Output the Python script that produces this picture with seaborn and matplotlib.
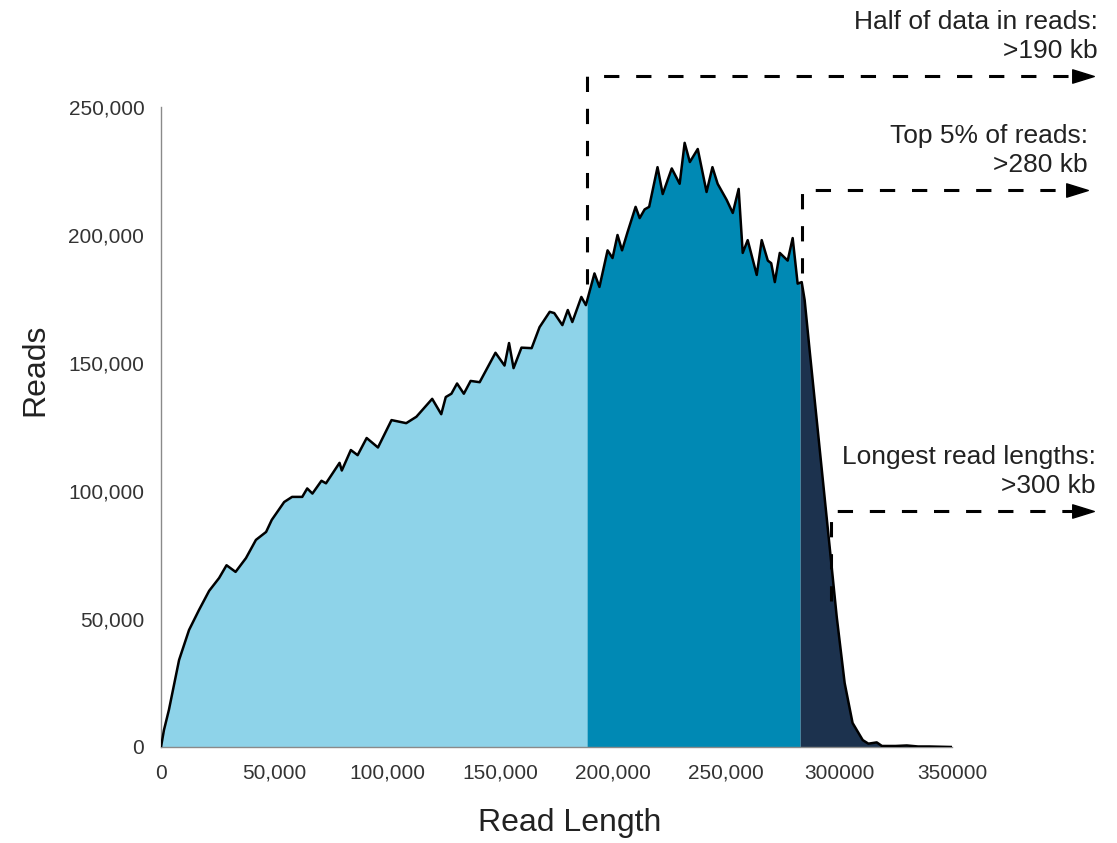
import numpy as np
import pandas as pd
import matplotlib
matplotlib.use("Agg")
import matplotlib.pyplot as plt
from matplotlib.path import Path
import seaborn as sns

# ---------------- data ----------------
read_length_kb = [0, 1.3, 3.5, 8, 12.4, 16.8, 21.3, 25.7, 29, 33, 37.6, 42, 46.5, 49, 54.5,
                  58, 62.5, 64.7, 67, 71, 73, 79, 80, 84, 87, 91, 96, 102, 108.5, 113,
                  120, 124, 126, 128.5, 131, 134, 137, 141, 148, 152, 154, 156, 159.5, 164,
                  167.5, 172, 174, 177.6, 180, 182, 186, 188, 191.8, 194, 197.6, 199.8, 202,
                  204, 206.4, 210, 211.8, 214, 216, 219.7, 222, 226, 229.5, 231.7, 234,
                  237.5, 241.4, 244, 246.3, 250.3, 253, 255.6, 257.4, 259.6, 263.6, 265.8,
                  268.5, 270, 271.6, 273.8, 277.3, 279.5, 281.7, 283.5, 284.8, 287, 290,
                  293, 296, 299, 302.5, 306, 310.5, 313, 316.7, 319, 325, 330, 335, 340,
                  345, 350]
reads_k = [0, 6.6, 14.5, 34, 45.7, 53.5, 61, 66, 71, 68.4, 73.8, 80.9, 84, 88.7, 95.7,
           97.7, 97.7, 101, 99, 104, 103, 111, 108, 116, 114, 120.7, 117, 127.7, 126.5, 129,
           136, 130, 136.7, 138, 142, 138, 143, 142.5, 154, 149, 157.8, 148, 156, 155.8,
           164, 170, 169.5, 164.8, 170.7, 166, 175.8, 172.6, 185, 179.7, 194, 191, 200,
           194, 201, 211, 206.6, 210, 211, 226.5, 216, 226, 220, 236, 228.5,
           233.6, 216.8, 226.5, 220, 213.7, 208.6, 218, 193, 198, 184.4, 198,
           190, 189, 181.6, 193, 190, 198.8, 181, 181.6, 174.6, 155, 129,
           103, 77, 50.8, 25, 9.4, 2.7, 1.3, 1.8, 0.4, 0.4, 0.6, 0.2, 0.2,
           0.1, 0]

# region boundaries (kb)
half_data_kb = 188.5
top5_kb = 282.8

# annotation callouts
callout_text = ["Half of data in reads:\n>190 kb",
                "Top 5% of reads:\n>280 kb",
                "Longest read lengths:\n>300 kb"]
callout_x_kb = [188.7, 283.5, 296.4]          # dashed vertical position
callout_level_k = [262, 217.5, 92]            # dashed horizontal level
callout_bottom_k = [181, 185, 57]             # lower end of vertical dash
callout_tip_kb = [413, 410, 413]              # arrow tip (beyond axis)
callout_text_x_kb = [414.5, 410, 413.5]

x_ticks = [0, 50000, 100000, 150000, 200000, 250000, 300000, 350000]
x_tick_labels = ["0", "50,000", "100,000", "150,000", "200,000", "250,000", "300000", "350000"]
y_ticks = [0, 50000, 100000, 150000, 200000, 250000]
y_tick_labels = ["0", "50,000", "100,000", "150,000", "200,000", "250,000"]

colors = ["#8ED3E9", "#0089B4", "#1C324E"]

# ---------------- plot ----------------
sns.set_theme(style="white")
plt.rcParams['font.family'] = ['Liberation Sans', 'DejaVu Sans']

df = pd.DataFrame({"Read Length": np.array(read_length_kb) * 1000.0,
                   "Reads": np.array(reads_k) * 1000.0})

W, H = 1117, 843
fig = plt.figure(figsize=(W / 100, H / 100), dpi=100)
ax = fig.add_axes([161 / W, 96 / H, 791 / W, 640 / H])

xs = df["Read Length"].to_numpy()
ys = df["Reads"].to_numpy()
bounds = [0, half_data_kb * 1000, top5_kb * 1000, 350000]
for i in range(3):
    a, b = bounds[i], bounds[i + 1]
    inner = (xs > a) & (xs < b)
    seg_x = np.concatenate([[a], xs[inner], [b]])
    seg_y = np.concatenate([[np.interp(a, xs, ys)], ys[inner], [np.interp(b, xs, ys)]])
    ax.fill_between(seg_x, 0, seg_y, color=colors[i], linewidth=0, zorder=1)

sns.lineplot(data=df, x="Read Length", y="Reads", color="black", linewidth=1.8,
             estimator=None, sort=False, ax=ax, zorder=3)

ax.set_xlim(0, 350000)
ax.set_ylim(0, 250000)
ax.set_xticks(x_ticks)
ax.set_xticklabels(x_tick_labels)
ax.set_yticks(y_ticks)
ax.set_yticklabels(y_tick_labels)

for s in ["top", "right"]:
    ax.spines[s].set_visible(False)
for s in ["left", "bottom"]:
    ax.spines[s].set_color("#8a8a8a")
    ax.spines[s].set_linewidth(1.0)
ax.tick_params(axis="both", which="major", direction="out", length=5, width=1.0,
               color="#8a8a8a", labelsize=15, labelcolor="#333333")
ax.tick_params(axis="y", pad=7)
ax.tick_params(axis="x", pad=7)
ax.grid(False)

ax.set_xlabel("Read Length", fontsize=23, color="#222222")
ax.set_ylabel("Reads", fontsize=23, color="#222222")
ax.xaxis.set_label_coords((570 - 161) / 791, -(823 - 747) / 640)
ax.xaxis.label.set_va("center")
ax.yaxis.set_label_coords(-(161 - 35) / 791, (747 - 370) / 640)
ax.yaxis.label.set_va("center")

# arrow head marker (elongated triangle)
head = Path([(-1, -0.62), (1, 0), (-1, 0.62), (-1, -0.62)],
            [Path.MOVETO, Path.LINETO, Path.LINETO, Path.CLOSEPOLY])
px_per_bp = 791 / 350000
px_per_read = 640 / 250000
head_len_bp = 22 / px_per_bp
line2_off = 25 / px_per_read      # second text line above the arrow
line_gap = 29 / px_per_read       # spacing between the two text lines

for txt, vx, lvl, bot, tip, tx in zip(callout_text, callout_x_kb, callout_level_k,
                                     callout_bottom_k, callout_tip_kb, callout_text_x_kb):
    vx, tip, tx = vx * 1000, tip * 1000, tx * 1000
    lvl, bot = lvl * 1000, bot * 1000
    ax.plot([vx, vx, tip - head_len_bp * 0.8], [bot, lvl, lvl], color="black",
            linewidth=2.2, linestyle=(0, (5, 5.5)), clip_on=False, zorder=4,
            solid_capstyle="butt", dash_capstyle="butt")
    ax.plot([tip - head_len_bp / 2], [lvl], marker=head, markersize=15.5,
            color="black", linestyle="none", clip_on=False, zorder=5)
    lines = txt.split("\n")
    ax.text(tx, lvl + line2_off + line_gap, lines[0], ha="right", va="center",
            fontsize=19, color="#222222", clip_on=False)
    ax.text(tx, lvl + line2_off, lines[1], ha="right", va="center",
            fontsize=19, color="#222222", clip_on=False)

fig.savefig("out.png", dpi=100)
